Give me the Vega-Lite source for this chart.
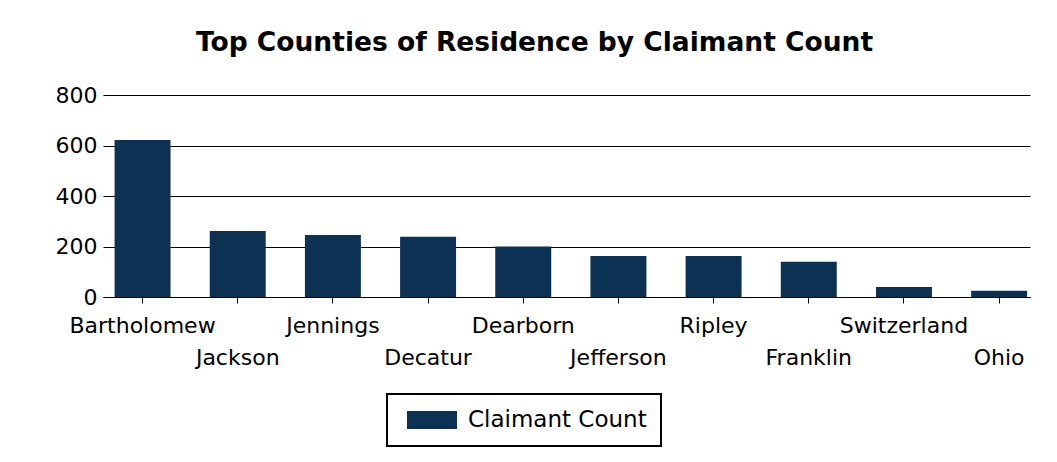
{
  "$schema": "https://vega.github.io/schema/vega-lite/v6.json",
  "width": 927,
  "height": 202,
  "padding": {"left": 55, "top": 29, "right": 5, "bottom": 5},
  "background": "white",
  "title": {
    "text": "Top Counties of Residence by Claimant Count",
    "font": "DejaVu Sans",
    "fontSize": 26.5,
    "fontWeight": "bold",
    "color": "black",
    "anchor": "middle",
    "frame": "bounds",
    "offset": 28,
    "dx": -8
  },
  "data": {
    "values": [
      {"county": "Bartholomew", "count": 622},
      {"county": "Jackson", "count": 261},
      {"county": "Jennings", "count": 246},
      {"county": "Decatur", "count": 239},
      {"county": "Dearborn", "count": 200},
      {"county": "Jefferson", "count": 162},
      {"county": "Ripley", "count": 162},
      {"county": "Franklin", "count": 140},
      {"county": "Switzerland", "count": 40},
      {"county": "Ohio", "count": 25}
    ]
  },
  "mark": {"type": "bar"},
  "encoding": {
    "x": {
      "field": "county",
      "type": "nominal",
      "sort": null,
      "scale": {"paddingInner": 0.412, "paddingOuter": 0.076, "align": 0.8},
      "axis": {
        "title": null,
        "labelAngle": 0,
        "labelOverlap": false,
        "labelBound": false,
        "labelFont": "DejaVu Sans",
        "labelFontSize": 22,
        "labelColor": "black",
        "labelBaseline": "top",
        "labelPadding": {
          "condition": {"test": "indexof(['Jackson','Decatur','Jefferson','Franklin','Ohio'], datum.value) >= 0", "value": 44},
          "value": 12
        },
        "domainColor": "black",
        "domainWidth": 1,
        "tickColor": "black",
        "tickSize": 6,
        "tickWidth": 1,
        "grid": false
      }
    },
    "y": {
      "field": "count",
      "type": "quantitative",
      "scale": {"domain": [0, 800], "nice": false},
      "axis": {
        "title": null,
        "values": [0, 200, 400, 600, 800],
        "labelFont": "DejaVu Sans",
        "labelFontSize": 22,
        "labelColor": "black",
        "labelPadding": 6,
        "ticks": false,
        "domain": false,
        "grid": true,
        "gridColor": "black",
        "gridWidth": 1,
        "gridOpacity": 1
      }
    },
    "color": {
      "datum": "Claimant Count",
      "type": "nominal",
      "scale": {"range": ["#0c3152"]},
      "legend": {
        "title": null,
        "orient": "none",
        "legendX": 284,
        "legendY": 299,
        "strokeColor": "black",
        "padding": 13.5,
        "symbolType": "M-2,-0.72H2V0.72H-2Z",
        "symbolSize": 625,
        "symbolOffset": 19,
        "symbolStrokeWidth": 0,
        "symbolOpacity": 1,
        "labelFont": "DejaVu Sans",
        "labelFontSize": 23,
        "labelColor": "black",
        "labelOffset": 23.5,
        "labelLimit": 400
      }
    }
  },
  "config": {
    "view": {"stroke": null},
    "legend": {"strokeWidth": 2}
  }
}
